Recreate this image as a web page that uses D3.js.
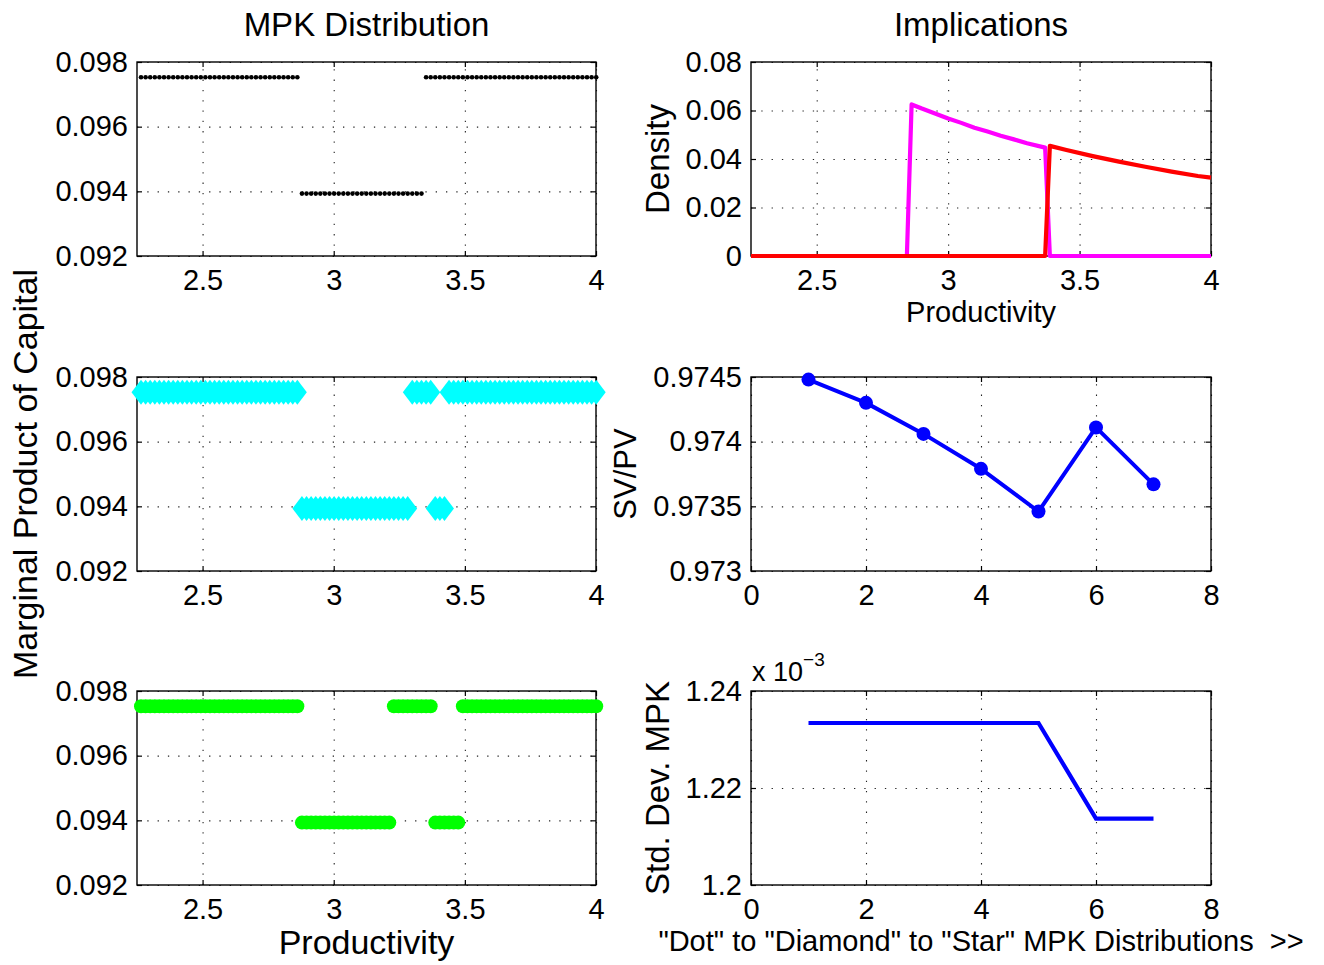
<!DOCTYPE html>
<html>
<head>
<meta charset="utf-8">
<script src="https://cdn.jsdelivr.net/npm/d3@7"></script>
<style>
  html, body { margin: 0; padding: 0; background: #fff; }
  svg text { font-family: "Liberation Sans", Arial, Helvetica, sans-serif; fill: #000; }
</style>
</head>
<body>
<svg id="fig" width="1324" height="965"></svg>
<script>
// ---------------- data ----------------
// productivity grid of the model (evenly spaced states)
const gridStart = 2.2653;
const gridStep = 0.01753;
const gridCount = 100;

// MPK levels taken by firms
const mpkHigh = 0.09753;
const mpkLow = 0.09393;

// MPK distributions as runs along the productivity grid
const dotRunLengths = [35, 27, 38];
const dotRunMPK = [mpkHigh, mpkLow, mpkHigh];
const diamondRunLengths = [35, 24, 5, 3, 33];
const diamondRunMPK = [mpkHigh, mpkLow, mpkHigh, mpkLow, mpkHigh];
const starRunLengths = [35, 20, 9, 6, 30];
const starRunMPK = [mpkHigh, mpkLow, mpkHigh, mpkLow, mpkHigh];

// productivity densities (productivity, density)
const densityLowMPK = [[2.25, 0], [2.843, 0], [2.861, 0.0625], [2.90, 0.0608], [2.95, 0.0588],
  [3.00, 0.0567], [3.05, 0.0549], [3.10, 0.0529], [3.15, 0.0513], [3.20, 0.0496], [3.25, 0.0481],
  [3.30, 0.0465], [3.369, 0.0447], [3.387, 0], [4.0, 0]];
const densityHighMPK = [[2.25, 0], [3.369, 0], [3.387, 0.0454], [3.45, 0.0437], [3.55, 0.0412],
  [3.65, 0.0389], [3.75, 0.0368], [3.85, 0.0348], [3.95, 0.0330], [4.0, 0.0323]];

// implications across distributions 1..7
const distributionIndex = [1, 2, 3, 4, 5, 6, 7];
const svOverPv = [0.97448, 0.97430, 0.97406, 0.97379, 0.97346, 0.97411, 0.97367];
const stdDevMPK = [0.0012334, 0.0012334, 0.0012334, 0.0012334, 0.0012334, 0.0012137, 0.0012137];

// tick values
const prodTicks = [2.5, 3, 3.5, 4];
const mpkTicks = [0.092, 0.094, 0.096, 0.098];
const densityTicks = [0, 0.02, 0.04, 0.06, 0.08];
const distTicks = [0, 2, 4, 6, 8];
const svpvTicks = [0.973, 0.9735, 0.974, 0.9745];
const stdTicks = [0.0012, 0.00122, 0.00124];

// ---------------- helpers ----------------
const svg = d3.select('#fig');
svg.append('rect').attr('width', 1324).attr('height', 965).attr('fill', '#fff');

const TICK_FONT = 29;

function expandRuns(lengths, levels) {
  const pts = [];
  let i = 0;
  lengths.forEach((n, k) => {
    for (let j = 0; j < n; j++, i++) pts.push({ p: gridStart + i * gridStep, mpk: levels[k] });
  });
  return pts;
}

function panel(px, py, pw, ph, xDomain, yDomain, xTicks, yTicks, xFmt, yFmt) {
  const x = d3.scaleLinear().domain(xDomain).range([px, px + pw]);
  const y = d3.scaleLinear().domain(yDomain).range([py + ph, py]);
  const g = svg.append('g');

  const styleGrid = s => {
    s.select('.domain').remove();
    s.selectAll('text').remove();
    s.selectAll('line').attr('stroke', '#222').attr('stroke-width', 1.1).attr('stroke-dasharray', '1.3 9');
  };
  g.append('g').attr('transform', `translate(0,${py + ph})`)
    .call(d3.axisBottom(x).tickValues(xTicks).tickSize(-ph).tickFormat(''))
    .call(styleGrid);
  g.append('g').attr('transform', `translate(${px},0)`)
    .call(d3.axisLeft(y).tickValues(yTicks).tickSize(-pw).tickFormat(''))
    .call(styleGrid);

  g.append('rect').attr('x', px).attr('y', py).attr('width', pw).attr('height', ph)
    .attr('fill', 'none').attr('stroke', '#000').attr('stroke-width', 1.4);

  const styleAxis = s => {
    s.select('.domain').remove();
    s.selectAll('line').attr('stroke', '#000').attr('stroke-width', 1.2);
    s.selectAll('text').attr('font-size', TICK_FONT).attr('font-family', null).attr('fill', '#000');
  };
  g.append('g').attr('transform', `translate(0,${py + ph})`)
    .call(d3.axisBottom(x).tickValues(xTicks).tickSizeInner(-5).tickSizeOuter(0).tickPadding(13.5).tickFormat(xFmt))
    .call(styleAxis);
  g.append('g').attr('transform', `translate(0,${py})`)
    .call(d3.axisTop(x).tickValues(xTicks).tickSizeInner(-5).tickSizeOuter(0).tickFormat(''))
    .call(styleAxis);
  g.append('g').attr('transform', `translate(${px},0)`)
    .call(d3.axisLeft(y).tickValues(yTicks).tickSizeInner(-5).tickSizeOuter(0).tickPadding(9).tickFormat(yFmt))
    .call(styleAxis);
  g.append('g').attr('transform', `translate(${px + pw},0)`)
    .call(d3.axisRight(y).tickValues(yTicks).tickSizeInner(-5).tickSizeOuter(0).tickFormat(''))
    .call(styleAxis);

  return { x, y, g };
}

function label(txt, x, y, size, rotate) {
  const t = svg.append('text').attr('font-size', size).attr('text-anchor', 'middle')
    .style('white-space', 'pre').text(txt);
  if (rotate) t.attr('transform', `translate(${x},${y}) rotate(-90)`);
  else t.attr('x', x).attr('y', y);
  return t;
}

const fmt = d3.format('~g');
const LX = 137, LW = 459, RX = 751, RW = 460;
const ROWS = [62, 377, 691], PH = 194;

// ---------------- left column: MPK distributions ----------------
const dotPanel = panel(LX, ROWS[0], LW, PH, [2.25, 4], [0.092, 0.098], prodTicks, mpkTicks, fmt, fmt);
dotPanel.g.append('g').selectAll('circle').data(expandRuns(dotRunLengths, dotRunMPK)).join('circle')
  .attr('cx', d => dotPanel.x(d.p)).attr('cy', d => dotPanel.y(d.mpk)).attr('r', 2.3).attr('fill', '#000');

const diamondPanel = panel(LX, ROWS[1], LW, PH, [2.25, 4], [0.092, 0.098], prodTicks, mpkTicks, fmt, fmt);
diamondPanel.g.append('g').selectAll('path').data(expandRuns(diamondRunLengths, diamondRunMPK)).join('path')
  .attr('transform', d => `translate(${diamondPanel.x(d.p)},${diamondPanel.y(d.mpk)})`)
  .attr('d', 'M0,-12.5L9.5,0L0,12.5L-9.5,0Z').attr('fill', '#00ffff');

const starPanel = panel(LX, ROWS[2], LW, PH, [2.25, 4], [0.092, 0.098], prodTicks, mpkTicks, fmt, fmt);
starPanel.g.append('g').selectAll('circle').data(expandRuns(starRunLengths, starRunMPK)).join('circle')
  .attr('cx', d => starPanel.x(d.p)).attr('cy', d => starPanel.y(d.mpk)).attr('r', 7).attr('fill', '#00ff00');

// ---------------- right column: implications ----------------
const densPanel = panel(RX, ROWS[0], RW, PH, [2.25, 4], [0, 0.08], prodTicks, densityTicks, fmt, fmt);
const densLine = d3.line().x(d => densPanel.x(d[0])).y(d => densPanel.y(d[1]));
densPanel.g.append('path').attr('d', densLine(densityLowMPK)).attr('fill', 'none')
  .attr('stroke', '#ff00ff').attr('stroke-width', 4.2).attr('stroke-linejoin', 'round');
densPanel.g.append('path').attr('d', densLine(densityHighMPK)).attr('fill', 'none')
  .attr('stroke', '#ff0000').attr('stroke-width', 4.2).attr('stroke-linejoin', 'round');

const svPanel = panel(RX, ROWS[1], RW, PH, [0, 8], [0.973, 0.9745], distTicks, svpvTicks, fmt, fmt);
const svData = distributionIndex.map((d, i) => [d, svOverPv[i]]);
svPanel.g.append('path')
  .attr('d', d3.line().x(d => svPanel.x(d[0])).y(d => svPanel.y(d[1]))(svData))
  .attr('fill', 'none').attr('stroke', '#0000ff').attr('stroke-width', 4).attr('stroke-linejoin', 'round');
svPanel.g.append('g').selectAll('circle').data(svData).join('circle')
  .attr('cx', d => svPanel.x(d[0])).attr('cy', d => svPanel.y(d[1])).attr('r', 7).attr('fill', '#0000ff');

const stdPanel = panel(RX, ROWS[2], RW, PH, [0, 8], [0.0012, 0.00124], distTicks, stdTicks, fmt, d => fmt(+(d * 1000).toFixed(6)));
const stdData = distributionIndex.map((d, i) => [d, stdDevMPK[i]]);
stdPanel.g.append('path')
  .attr('d', d3.line().x(d => stdPanel.x(d[0])).y(d => stdPanel.y(d[1]))(stdData))
  .attr('fill', 'none').attr('stroke', '#0000ff').attr('stroke-width', 4.2);

// exponent marker of the std. dev. axis
const expo = svg.append('text').attr('x', 752).attr('y', 681).attr('font-size', 27);
expo.append('tspan').text('x 10');
expo.append('tspan').attr('font-size', 19).attr('dy', -15).text('\u22123');

// ---------------- titles and axis labels ----------------
label('MPK Distribution', LX + LW / 2, 36, 33);
label('Implications', RX + RW / 2, 36, 33);
label('Marginal Product of Capital', 37, 474, 34, true);
label('Productivity', LX + LW / 2, 954, 34);
label('Productivity', RX + RW / 2, 322, 29);
label('Density', 669, ROWS[0] + PH / 2, 33, true);
label('SV/PV', 636, ROWS[1] + PH / 2, 31, true);
label('Std. Dev. MPK', 669, ROWS[2] + PH / 2, 33, true);
label('"Dot" to "Diamond" to "Star" MPK Distributions  >>', RX + RW / 2, 951, 29);
</script>
</body>
</html>
